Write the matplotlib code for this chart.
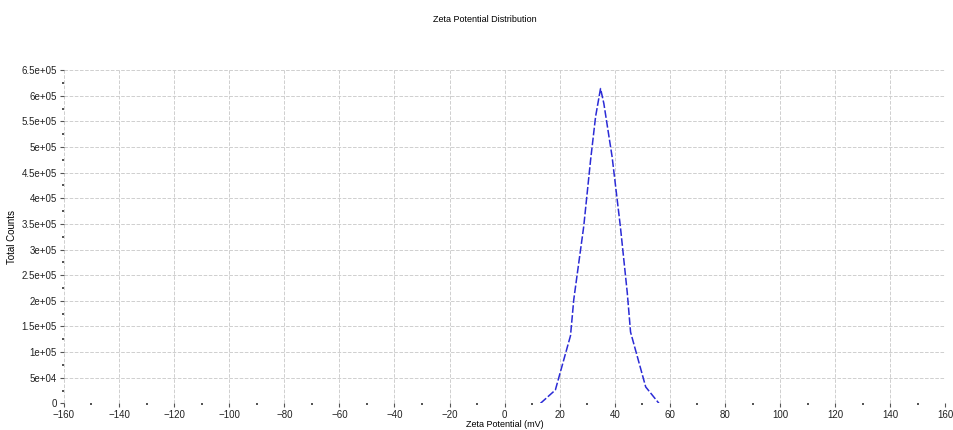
import numpy as np
import matplotlib.pyplot as plt
from matplotlib.ticker import MultipleLocator, FuncFormatter

# zeta potential (mV) vs total counts
zeta_mv = [13, 18.4, 23.9, 25.1, 28.7, 31.2, 33, 34.8, 36, 39, 42, 44.5, 45.7, 51.2, 56]
total_counts = [0, 26000, 132000, 203000, 345000, 475000, 559000, 614000,
                585000, 481000, 345000, 216000, 139000, 32000, 0]

x_ticks = list(range(-160, 161, 20))
y_ticks = list(range(0, 650001, 50000))

FONT = ['Liberation Sans Narrow', 'Liberation Sans', 'DejaVu Sans']
plt.rcParams['font.family'] = FONT


def sci(v, pos):
    if v == 0:
        return '0'
    s = '%.1e' % v
    m, e = s.split('e')
    m = m.rstrip('0').rstrip('.')
    return m + 'e' + e[0] + e[1:].zfill(2)


fig = plt.figure(figsize=(9.54, 4.3), dpi=100)
ax = fig.add_axes([0.067, 0.062, 0.924, 0.775])

ax.plot(zeta_mv, total_counts, color='#2b2bd6', linestyle='--', linewidth=1.1,
        dashes=(5, 1.5))

ax.set_xlim(-160, 160)
ax.set_ylim(0, 650000)
ax.set_xticks(x_ticks)
ax.set_yticks(y_ticks)
ax.xaxis.set_minor_locator(MultipleLocator(10))
ax.yaxis.set_minor_locator(MultipleLocator(25000))
ax.yaxis.set_major_formatter(FuncFormatter(sci))

ax.grid(True, which='major', linestyle='--', color='#cfcfcf', linewidth=0.7)
for s in ax.spines.values():
    s.set_visible(False)
ax.tick_params(which='major', length=3, width=0.8, color='#555555',
               labelsize=7, labelcolor='#222222', pad=2)
ax.tick_params(which='minor', length=1.5, width=1.2, color='#333333')

ax.set_xlabel('Zeta Potential (mV)', fontsize=6.5, labelpad=0)
ax.set_ylabel('Total Counts', fontsize=7, labelpad=3)
fig.text(0.508, 0.955, 'Zeta Potential Distribution', ha='center', va='center', fontsize=6.5)

plt.savefig('out.png', dpi=100)
